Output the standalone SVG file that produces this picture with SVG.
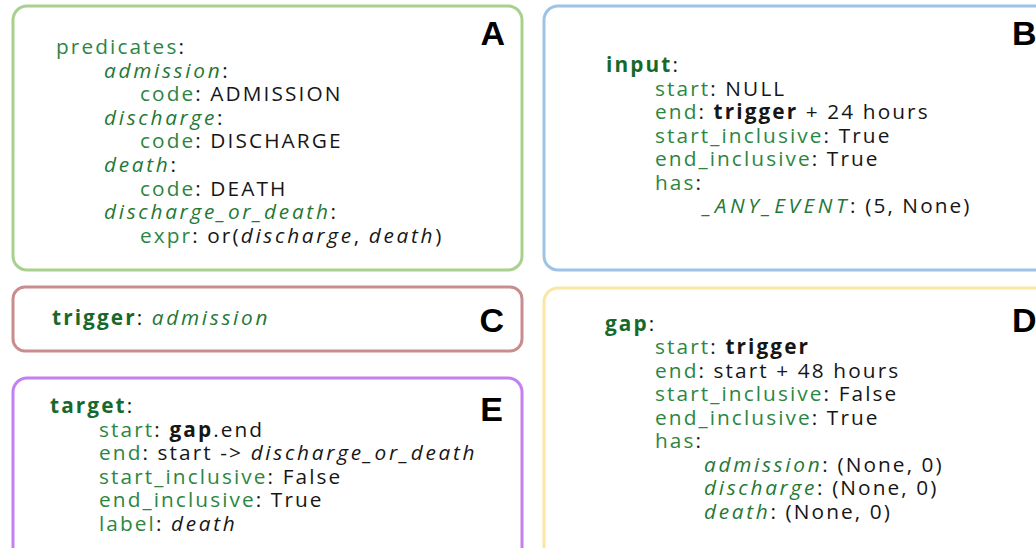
<svg xmlns="http://www.w3.org/2000/svg" width="1036" height="548" viewBox="0 0 1036 548">
  <style>
    .box { fill: #ffffff; stroke-width: 3; }
    .code { font-family: "Open Sans", "Noto Sans", sans-serif; font-size: 20.8px; letter-spacing: 2.1px; fill: #161616; }
    .k { fill: #2b8642; }
    .kb { fill: #17692b; font-weight: bold; }
    .ki { fill: #237836; font-style: italic; letter-spacing: 2.7px; }
    .wide { letter-spacing: 3.6px; }
    .b { font-weight: bold; }
    .i { font-style: italic; letter-spacing: 2.7px; }
    .tag { font-family: "Liberation Sans", Arial, sans-serif; font-size: 34px; font-weight: bold; fill: #000000; }
  </style>
  <rect width="1036" height="548" fill="#ffffff"/>

  <!-- A: predicate definitions -->
  <g id="predicates">
    <rect class="box" x="13" y="6" width="509" height="264" rx="14" stroke="#a9d18e"/>
    <text class="tag" x="505" y="45" text-anchor="end">A</text>
    <text class="code" x="56" y="54"><tspan class="k">predicates</tspan>:</text>
    <text class="code" x="104" y="77.6"><tspan class="ki">admission</tspan>:</text>
    <text class="code" x="140" y="101.2"><tspan class="k">code</tspan>: ADMISSION</text>
    <text class="code" x="104" y="124.8"><tspan class="ki">discharge</tspan>:</text>
    <text class="code" x="140" y="148.4"><tspan class="k">code</tspan>: DISCHARGE</text>
    <text class="code" x="104" y="172"><tspan class="ki">death</tspan>:</text>
    <text class="code" x="140" y="195.6"><tspan class="k">code</tspan>: DEATH</text>
    <text class="code" x="104" y="219.2"><tspan class="ki">discharge_or_death</tspan>:</text>
    <text class="code" x="140" y="242.8"><tspan class="k">expr</tspan>: or(<tspan class="i">discharge</tspan>, <tspan class="i">death</tspan>)</text>
  </g>

  <!-- B: input window -->
  <g id="input">
    <rect class="box" x="544" y="6" width="510" height="264" rx="14" stroke="#9dc3e6"/>
    <text class="tag" x="1012" y="45">B</text>
    <text class="code" x="606" y="72"><tspan class="kb">input</tspan>:</text>
    <text class="code" x="655" y="95.5"><tspan class="k">start</tspan>: NULL</text>
    <text class="code" x="655" y="119"><tspan class="k">end</tspan>: <tspan class="b">trigger</tspan> + 24 hours</text>
    <text class="code" x="655" y="142.5"><tspan class="k">start_inclusive</tspan>: True</text>
    <text class="code" x="655" y="166"><tspan class="k">end_inclusive</tspan>: True</text>
    <text class="code" x="655" y="189.5"><tspan class="k">has</tspan>:</text>
    <text class="code" x="703" y="213"><tspan class="ki wide">_ANY_EVENT</tspan>: (5, None)</text>
  </g>

  <!-- C: trigger -->
  <g id="trigger">
    <rect class="box" x="13" y="287" width="509" height="64" rx="12" stroke="#c98d8d"/>
    <text class="tag" x="504" y="332" text-anchor="end">C</text>
    <text class="code" x="52" y="325"><tspan class="kb">trigger</tspan>: <tspan class="ki">admission</tspan></text>
  </g>

  <!-- D: gap window -->
  <g id="gap">
    <rect class="box" x="544" y="288" width="510" height="280" rx="14" stroke="#fbe6a2"/>
    <text class="tag" x="1012" y="332">D</text>
    <text class="code" x="605" y="331"><tspan class="kb">gap</tspan>:</text>
    <text class="code" x="655" y="354"><tspan class="k">start</tspan>: <tspan class="b">trigger</tspan></text>
    <text class="code" x="655" y="377.5"><tspan class="k">end</tspan>: start + 48 hours</text>
    <text class="code" x="655" y="401"><tspan class="k">start_inclusive</tspan>: False</text>
    <text class="code" x="655" y="424.5"><tspan class="k">end_inclusive</tspan>: True</text>
    <text class="code" x="655" y="448"><tspan class="k">has</tspan>:</text>
    <text class="code" x="704" y="471.5"><tspan class="ki">admission</tspan>: (None, 0)</text>
    <text class="code" x="704" y="495"><tspan class="ki">discharge</tspan>: (None, 0)</text>
    <text class="code" x="704" y="518.5"><tspan class="ki">death</tspan>: (None, 0)</text>
  </g>

  <!-- E: target window -->
  <g id="target">
    <rect class="box" x="13" y="378" width="509" height="190" rx="14" stroke="#c480f0"/>
    <text class="tag" x="503" y="421" text-anchor="end">E</text>
    <text class="code" x="50" y="413"><tspan class="kb">target</tspan>:</text>
    <text class="code" x="99" y="436.5"><tspan class="k">start</tspan>: <tspan class="b">gap</tspan>.end</text>
    <text class="code" x="99" y="460"><tspan class="k">end</tspan>: start -&gt; <tspan class="i">discharge_or_death</tspan></text>
    <text class="code" x="99" y="483.5"><tspan class="k">start_inclusive</tspan>: False</text>
    <text class="code" x="99" y="507"><tspan class="k">end_inclusive</tspan>: True</text>
    <text class="code" x="99" y="530.5"><tspan class="k">label</tspan>: <tspan class="i">death</tspan></text>
  </g>

  <!-- no connectors are drawn between the panels -->
  <g id="connectors"/>
</svg>
